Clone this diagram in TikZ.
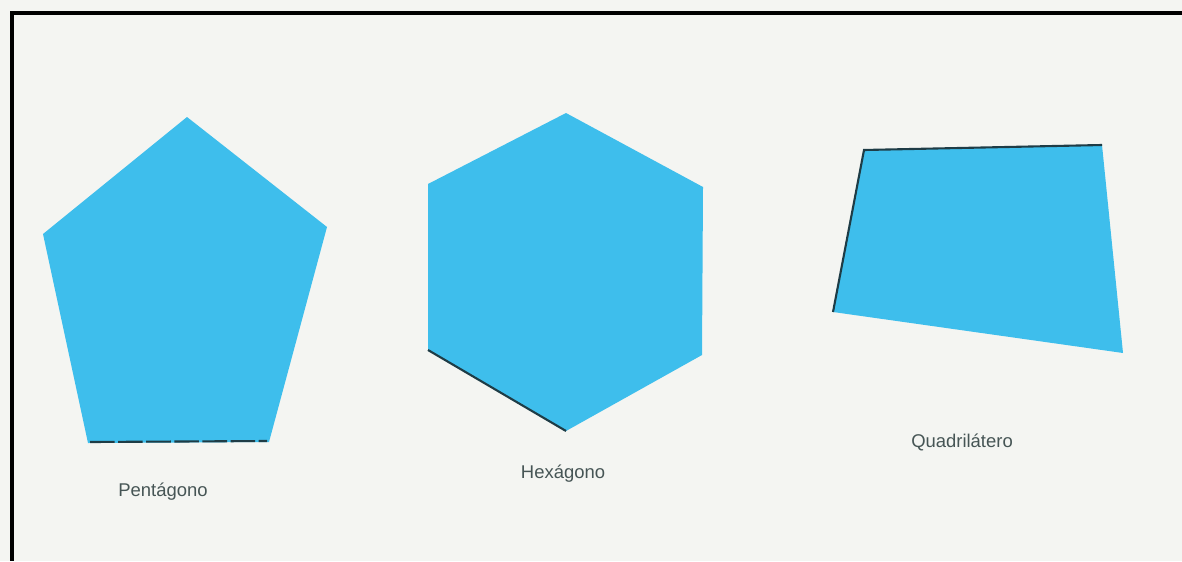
\documentclass[tikz,border=0pt]{standalone}
\usepackage{fontspec}
\setmainfont{Liberation Sans}
\usetikzlibrary{calc}

\definecolor{paper}{RGB}{244,245,242}
\definecolor{polyblue}{RGB}{62,190,236}
\definecolor{edgedark}{RGB}{30,60,70}
\definecolor{labelgray}{RGB}{70,85,85}

\tikzset{
    poly/.style={fill=polyblue},
    rim/.style={edgedark, line width=1.2pt},
    shapelabel/.style={text=labelgray, font=\fontsize{10.5}{12}\selectfont, inner sep=0pt}
}

\begin{document}
\begin{tikzpicture}[x=0.02cm, y=-0.02cm]
            \def\W{1182}
            \def\H{561}
            \useasboundingbox (0,0) rectangle (\W,\H);
            \fill[paper] (0,0) rectangle (\W,\H);
            % frame (only top and left visible)
            \draw[black, line width=2.2pt] (\W,13) -- (12,13) -- (12,\H);
            % pentagon
            \fill[poly] (187,117) -- (327,227) -- (269,442) -- (88,443) -- (43,234) -- cycle;
            \draw[rim, dash pattern=on 14pt off 2pt] (90,442) -- (267,441);
            \node[shapelabel] (pent) at (163,492) {Pentágono};
            % hexagon
            \fill[poly] (566,113) -- (703,187) -- (702,355) -- (566,431) -- (428,350) -- (428,184) -- cycle;
            \draw[rim] (428,350) -- (566,431);
            \node[shapelabel] (hexa) at (563,474) {Hexágono};
            % quadrilateral
            \fill[poly] (864,150) -- (1102,145) -- (1123,353) -- (833,312) -- cycle;
            \draw[rim] (833,312) -- (864,150) -- (1102,145);
            \node[shapelabel] (quad) at (962,442) {Quadrilátero};
        \end{tikzpicture}
\end{document}
